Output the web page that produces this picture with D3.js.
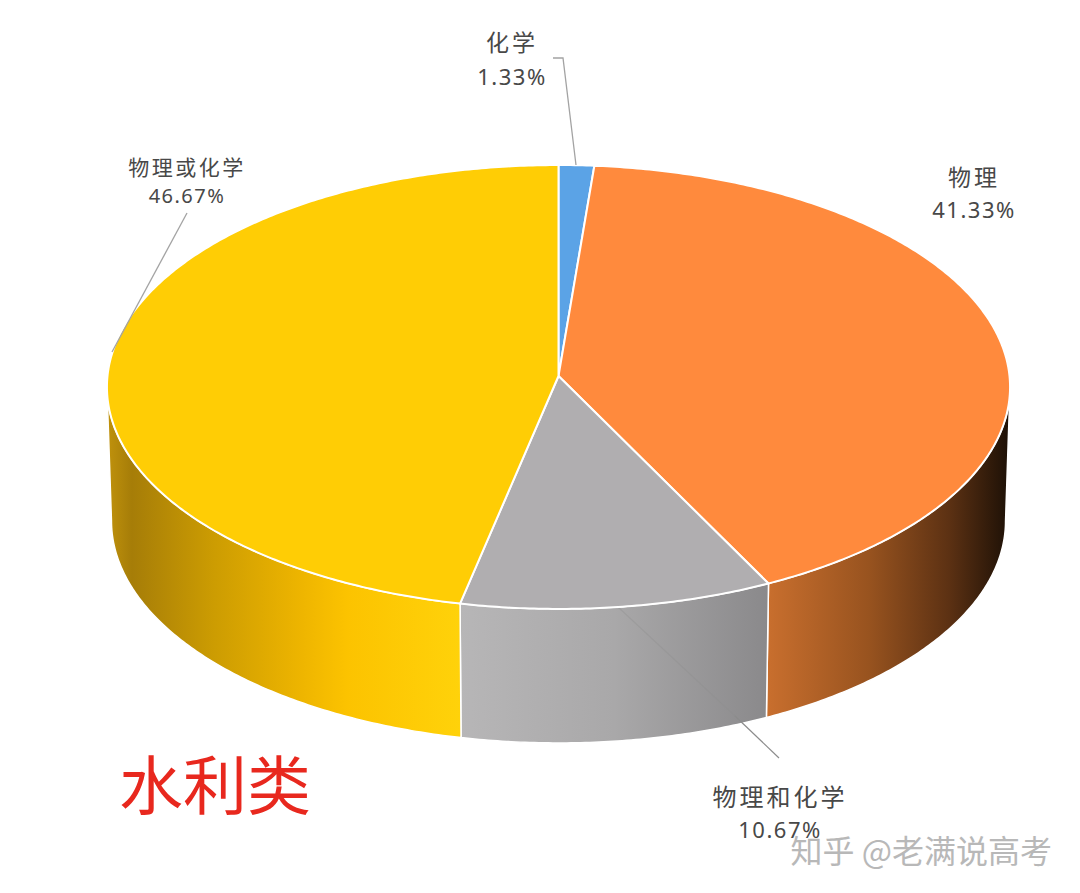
<!DOCTYPE html>
<html><head><meta charset="utf-8">
<script src="https://cdnjs.cloudflare.com/ajax/libs/d3/7.8.5/d3.min.js"></script>
<style>
html,body{margin:0;padding:0;background:#fff;overflow:hidden}
svg{display:block}
text{font-family:"Noto Sans CJK SC","Noto Sans",sans-serif}
</style></head><body>
<svg id="c" width="1080" height="893"></svg>
<script>
const categories = ["化学","物理","物理和化学","物理或化学"];
const values = [1.33,41.33,10.67,46.67];
const valueLabels = ["1.33%","41.33%","10.67%","46.67%"];
const chartTitle = "水利类";
const watermark = "知乎 @老满说高考";

const topColors = ["#5ba3e6","#ff8a3d","#b0aeb0","#ffcd05"];
const sideStops = [
  [[0,"#3f7cb4"],[1,"#3f7cb4"]],
  [[0,"#c96f2e"],[0.42,"#98531f"],[0.75,"#5c3113"],[1,"#1c1006"]],
  [[0,"#b7b6b7"],[0.5,"#a9a8a9"],[1,"#8a898b"]],
  [[0,"#c0920c"],[0.07,"#a67d08"],[0.3,"#cc9c02"],[0.55,"#eeb500"],[0.68,"#fcc300"],[1,"#ffd20a"]]
];
const labelAnchors = [[512,41,76],[974,176,209],[780,795,829],[187,166,195]];
const labelSizes = [23,23,24,21];
const labelSpacing = [3,3,3,2.5];
const valueSizes = [22,22,22,20];
const leaders = [
  [[553,58],[563,58],[576,165]],
  [],
  [[618,607],[735,716],[779,758]],
  [[187,213],[112,352]]
];

const svg = d3.select("#c");
const cx = 558.5, cyTop = 376, depth = 134, B = 451, A = 221.4, k = -0.0495, baseScale = 0.99;

function project(theta, scale=1, dy=0){
  const u = Math.sin(theta), v = -Math.cos(theta), w = 1 + k*v;
  return [cx + scale*B*u/w, cyTop + dy + A*v/w];
}
const pie = d3.pie().sort(null).value(d=>d)(values);
const arcPts = (a,b,scale,dy)=>{
  const n = Math.max(2,Math.ceil((b-a)/0.01));
  return d3.range(n+1).map(i=>project(a+(b-a)*i/n,scale,dy));
};
const line = d3.line();
const defs = svg.append("defs");

// angles where the silhouette of the disc is vertical
const sweep = d3.range(0,2*Math.PI,0.001);
const thetaRight = sweep[d3.greatestIndex(sweep,t=>project(t)[0])];
const thetaLeft  = sweep[d3.leastIndex(sweep,t=>project(t)[0])];

// side walls: only the part of each slice facing the viewer
pie.forEach((p,i)=>{
  const a = Math.max(p.startAngle,thetaRight), b = Math.min(p.endAngle,thetaLeft);
  if(b<=a) return;
  const topArc = arcPts(a,b,1,0);
  const baseArc = arcPts(a,b,baseScale,depth);
  const xs = d3.extent(topArc.concat(baseArc),q=>q[0]);
  const g = defs.append("linearGradient").attr("id","g"+i)
    .attr("gradientUnits","userSpaceOnUse")
    .attr("x1",xs[0]).attr("x2",xs[1]).attr("y1",0).attr("y2",0);
  sideStops[i].forEach(s=>g.append("stop").attr("offset",s[0]).attr("stop-color",s[1]));
  svg.append("path")
    .attr("d",line(topArc.concat(baseArc.slice().reverse()))+"Z")
    .attr("fill",`url(#g${i})`)
    .attr("stroke","#fff").attr("stroke-width",1.5).attr("stroke-linejoin","round");
});

// grey leader: faint over the wall, solid outside it
svg.append("path").attr("d",line(leaders[2].slice(0,2))).attr("fill","none")
  .attr("stroke","#8c8c8c").attr("stroke-opacity",0.35).attr("stroke-width",1.2);
svg.append("path").attr("d",line(leaders[2].slice(1))).attr("fill","none")
  .attr("stroke","#8c8c8c").attr("stroke-width",1.2);

// top faces
pie.forEach((p,i)=>{
  const pts = [[cx,cyTop]].concat(arcPts(p.startAngle,p.endAngle,1,0));
  svg.append("path").attr("d",line(pts)+"Z")
    .attr("fill",topColors[i])
    .attr("stroke","#fff").attr("stroke-width",2).attr("stroke-linejoin","round");
});

[0,3].forEach(i=>{
  svg.append("path").attr("d",line(leaders[i])).attr("fill","none").attr("stroke","#a3a3a3").attr("stroke-width",1.3);
});

categories.forEach((c,i)=>{
  const a = labelAnchors[i];
  svg.append("text").text(c).attr("x",a[0]).attr("y",a[1])
    .attr("text-anchor","middle").attr("dominant-baseline","central")
    .attr("font-size",labelSizes[i]).attr("letter-spacing",labelSpacing[i]).attr("fill","#484848");
  svg.append("text").text(valueLabels[i]).attr("x",a[0]).attr("y",a[2])
    .attr("text-anchor","middle").attr("dominant-baseline","central")
    .attr("font-size",valueSizes[i]).attr("letter-spacing",1.5).attr("fill","#484848")
    .style("font-family","'Noto Sans',sans-serif");
});

svg.append("text").text(chartTitle).attr("x",119).attr("y",781)
  .attr("dominant-baseline","central").attr("font-size",64).attr("fill","#e8281e");

svg.append("text").text(watermark).attr("x",1052).attr("y",849)
  .attr("text-anchor","end").attr("dominant-baseline","central")
  .attr("font-size",32).attr("fill","#b8b8b8")
  .attr("stroke","#fff").attr("stroke-width",0.6).attr("paint-order","stroke");
</script>
</body></html>
